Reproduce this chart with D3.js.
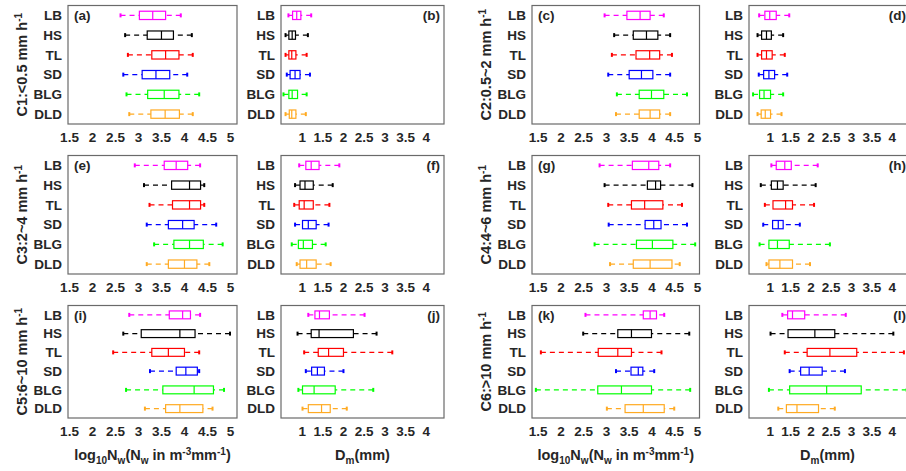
<!DOCTYPE html>
<html>
<head>
<meta charset="utf-8">
<script src="https://cdn.jsdelivr.net/npm/d3@7"></script>
<style>
  body { margin: 0; background: #fff; }
  text { font-family: Arial, "Liberation Sans", sans-serif; font-weight: bold; fill: #262626; font-size: 13.5px; }
</style>
</head>
<body>
<svg id="chart" width="906" height="471"></svg>
<script>
const sites = ['LB', 'HS', 'TL', 'SD', 'BLG', 'DLD'];
const siteColors = ['#ff00ff', '#000000', '#ff0000', '#0000ff', '#00ff00', '#ffaa22'];
const classTitles = ['C1:<0.5 mm h', 'C2:0.5~2 mm h', 'C3:2~4 mm h', 'C4:4~6 mm h', 'C5:6~10 mm h', 'C6:>10 mm h'];
const nwTicks = [1.5, 2, 2.5, 3, 3.5, 4, 4.5, 5];
const dmTicks = [1, 1.5, 2, 2.5, 3, 3.5, 4];

// each row: [lower whisker, q1, median, q3, upper whisker], in sites order
const nwC1 = [[2.62,3.03,3.32,3.60,3.93],[2.72,3.20,3.51,3.77,4.17],[2.78,3.30,3.60,3.89,4.19],[2.68,3.09,3.39,3.69,4.07],[2.75,3.21,3.57,3.89,4.33],[2.81,3.28,3.59,3.90,4.19]];
const dmC1 = [[0.68,0.78,0.88,0.98,1.23],[0.61,0.69,0.77,0.85,1.15],[0.61,0.69,0.76,0.86,1.12],[0.64,0.72,0.84,0.96,1.20],[0.56,0.69,0.77,0.90,1.12],[0.61,0.70,0.76,0.86,1.10]];
const nwC2 = [[2.97,3.46,3.75,3.97,4.27],[3.18,3.60,3.89,4.14,4.41],[3.13,3.66,3.96,4.18,4.45],[3.05,3.51,3.78,4.03,4.41],[3.24,3.73,4.00,4.27,4.78],[3.22,3.73,3.97,4.18,4.41]];
const dmC2 = [[0.74,0.88,1.00,1.16,1.48],[0.70,0.80,0.92,1.04,1.33],[0.70,0.80,0.92,1.06,1.37],[0.73,0.85,0.98,1.12,1.43],[0.59,0.75,0.86,1.02,1.33],[0.70,0.79,0.89,1.02,1.29]];
const nwC3 = [[2.93,3.57,3.83,4.08,4.35],[3.13,3.73,4.12,4.36,4.44],[3.25,3.75,4.12,4.36,4.44],[3.19,3.66,3.97,4.22,4.70],[3.35,3.78,4.12,4.42,4.84],[3.19,3.66,4.01,4.28,4.55]];
const dmC3 = [[0.94,1.10,1.23,1.42,1.91],[0.84,0.96,1.08,1.28,1.75],[0.82,0.94,1.06,1.28,1.67],[0.84,1.02,1.16,1.35,1.65],[0.76,0.92,1.04,1.26,1.58],[0.88,0.96,1.12,1.35,1.70]];
const nwC4 = [[2.86,3.58,3.94,4.16,4.41],[2.97,3.91,4.09,4.20,4.90],[3.05,3.56,3.85,4.25,4.67],[3.06,3.86,4.05,4.21,4.78],[2.75,3.67,4.02,4.47,4.96],[3.09,3.60,3.97,4.45,4.62]];
const dmC4 = [[1.04,1.16,1.37,1.53,2.18],[0.78,1.04,1.19,1.33,2.13],[0.88,1.08,1.39,1.56,2.09],[0.84,1.07,1.21,1.33,1.74],[0.75,0.98,1.19,1.48,2.48],[0.92,0.98,1.25,1.56,1.99]];
const nwC5 = [[2.81,3.68,3.97,4.14,4.35],[2.68,3.07,3.91,4.24,5.00],[2.46,3.30,3.66,4.01,4.33],[3.26,3.83,4.04,4.29,4.33],[2.74,3.54,4.22,4.64,4.87],[3.15,3.60,3.91,4.41,4.62]];
const dmC5 = [[1.16,1.32,1.43,1.67,2.52],[0.90,1.23,1.42,2.25,2.81],[1.06,1.40,1.65,2.01,3.19],[1.10,1.24,1.38,1.55,2.01],[0.92,1.02,1.30,1.81,2.73],[1.02,1.16,1.48,1.69,2.09]];
const nwC6 = [[2.55,3.82,3.97,4.11,4.28],[2.50,3.26,3.56,4.00,4.83],[1.57,2.83,3.26,3.56,4.22],[3.22,3.55,3.71,3.81,4.06],[1.46,2.82,3.34,4.00,4.85],[3.02,3.42,3.82,4.28,4.50]];
const dmC6 = [[1.31,1.44,1.56,1.86,2.87],[1.02,1.45,2.11,2.60,4.04],[1.37,1.92,2.48,3.14,4.30],[1.49,1.76,1.97,2.29,2.85],[0.98,1.49,2.40,3.25,4.37],[1.21,1.41,1.67,2.20,2.60]];

const svg = d3.select('#chart');

// panel frames in pixels
const colDefs = [
  { domain: [1.478, 5.152], range: [68, 237], ticks: nwTicks },
  { domain: [0.5, 4.44], range: [281, 444], ticks: dmTicks },
  { domain: [1.375, 5.055], range: [532, 699.5], ticks: nwTicks },
  { domain: [0.49, 4.45], range: [749, 910], ticks: dmTicks }
];
const rowDefs = [[5.5, 124], [155.5, 274], [305.5, 418]];

const panels = [
  { data: nwC1, col: 0, row: 0, tag: '(a)' }, { data: dmC1, col: 1, row: 0, tag: '(b)' },
  { data: nwC2, col: 2, row: 0, tag: '(c)' }, { data: dmC2, col: 3, row: 0, tag: '(d)' },
  { data: nwC3, col: 0, row: 1, tag: '(e)' }, { data: dmC3, col: 1, row: 1, tag: '(f)' },
  { data: nwC4, col: 2, row: 1, tag: '(g)' }, { data: dmC4, col: 3, row: 1, tag: '(h)' },
  { data: nwC5, col: 0, row: 2, tag: '(i)' }, { data: dmC5, col: 1, row: 2, tag: '(j)' },
  { data: nwC6, col: 2, row: 2, tag: '(k)' }, { data: dmC6, col: 3, row: 2, tag: '(l)' }
];

panels.forEach(drawPanel);

function drawPanel(p) {
  const c = colDefs[p.col];
  const r = rowDefs[p.row];
  const x = d3.scaleLinear().domain(c.domain).range(c.range);
  const y = d3.scalePoint().domain(sites).range(r).padding(0.5);
  const g = svg.append('g');

  g.append('rect')
    .attr('x', c.range[0]).attr('y', r[0])
    .attr('width', c.range[1] - c.range[0]).attr('height', r[1] - r[0])
    .attr('fill', 'none').attr('stroke', '#6a6a6a').attr('stroke-width', 1.2);

  // axes (labels only, frame drawn above)
  const xAxis = g.append('g')
    .attr('transform', `translate(0,${r[1]})`)
    .call(d3.axisBottom(x).tickValues(c.ticks).tickSize(0).tickPadding(8).tickFormat(d3.format('')));
  xAxis.select('.domain').remove();

  const yAxis = g.append('g')
    .attr('transform', `translate(${c.range[0]},0)`)
    .call(d3.axisLeft(y).tickSize(0).tickPadding(6));
  yAxis.select('.domain').remove();

  const bh = y.step() * 0.42;
  const boxes = g.selectAll('g.box')
    .data(p.data)
    .join('g')
    .attr('class', 'box')
    .attr('transform', (d, i) => `translate(0,${y(sites[i])})`)
    .attr('stroke', (d, i) => siteColors[i])
    .attr('stroke-width', 1.2)
    .attr('fill', 'none');

  // whiskers
  boxes.append('line')
    .attr('x1', d => x(d[0])).attr('x2', d => x(d[1]))
    .attr('stroke-dasharray', '5,4');
  boxes.append('line')
    .attr('x1', d => x(d[4])).attr('x2', d => x(d[3]))
    .attr('stroke-dasharray', '5,4');
  boxes.append('line')
    .attr('x1', d => x(d[0])).attr('x2', d => x(d[0]))
    .attr('y1', -2).attr('y2', 2).attr('stroke-width', 2);
  boxes.append('line')
    .attr('x1', d => x(d[4])).attr('x2', d => x(d[4]))
    .attr('y1', -2).attr('y2', 2).attr('stroke-width', 2);

  boxes.append('rect')
    .attr('x', d => x(d[1])).attr('width', d => x(d[3]) - x(d[1]))
    .attr('y', -bh / 2).attr('height', bh);
  boxes.append('line')
    .attr('x1', d => x(d[2])).attr('x2', d => x(d[2]))
    .attr('y1', -bh / 2).attr('y2', bh / 2);

  // panel tag
  const right = p.col % 2 === 1;
  g.append('text')
    .attr('x', right ? c.range[1] - 4 : c.range[0] + 6)
    .attr('y', y('LB') + 5)
    .attr('text-anchor', right ? 'end' : 'start')
    .text(p.tag);

  // class title on the Nw panels
  if (!right) {
    const cls = p.row * 2 + (p.col === 2 ? 1 : 0);
    const t = g.append('text')
      .attr('transform', `translate(${c.range[0] - 41},${(r[0] + r[1]) / 2}) rotate(-90)`)
      .attr('text-anchor', 'middle')
      .style('font-size', '14.5px');
    t.append('tspan').text(classTitles[cls]);
    t.append('tspan').attr('dy', -5).style('font-size', '10px').text('-1');
  }

  // x titles on the bottom row
  if (p.row === 2) {
    const t = g.append('text')
      .attr('x', (c.range[0] + c.range[1]) / 2 + (p.col === 3 ? -2 : 0))
      .attr('y', 460)
      .attr('text-anchor', 'middle')
      .style('font-size', '14.5px');
    if (right) {
      t.append('tspan').text('D');
      t.append('tspan').attr('dy', 4).style('font-size', '10px').text('m');
      t.append('tspan').attr('dy', -4).text('(mm)');
    } else {
      t.append('tspan').text('log');
      t.append('tspan').attr('dy', 4).style('font-size', '10px').text('10');
      t.append('tspan').attr('dy', -4).text('N');
      t.append('tspan').attr('dy', 4).style('font-size', '10px').text('w');
      t.append('tspan').attr('dy', -4).text('(N');
      t.append('tspan').attr('dy', 4).style('font-size', '10px').text('w');
      t.append('tspan').attr('dy', -4).text(' in m');
      t.append('tspan').attr('dy', -5).style('font-size', '10px').text('-3');
      t.append('tspan').attr('dy', 5).text('mm');
      t.append('tspan').attr('dy', -5).style('font-size', '10px').text('-1');
      t.append('tspan').attr('dy', 5).text(')');
    }
  }
}
</script>
</body>
</html>
